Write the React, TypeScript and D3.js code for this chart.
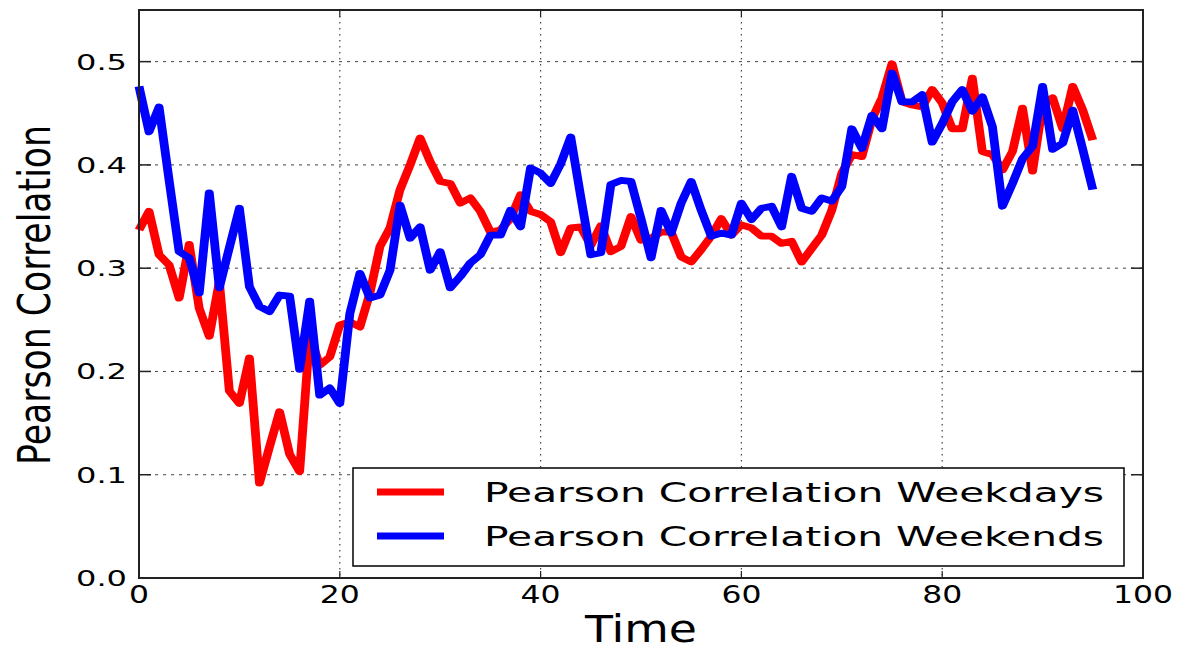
import React from "react";
import * as d3 from "d3";

// Pearson correlation per time step
const weekdays: number[] = [
  0.337, 0.355, 0.313, 0.303, 0.271, 0.323, 0.261, 0.234, 0.287, 0.181,
  0.169, 0.213, 0.092, 0.127, 0.161, 0.12, 0.103, 0.235, 0.206, 0.214,
  0.245, 0.248, 0.243, 0.276, 0.321, 0.339, 0.376, 0.4, 0.426, 0.403,
  0.384, 0.382, 0.363, 0.368, 0.355, 0.335, 0.337, 0.348, 0.371, 0.355,
  0.352, 0.345, 0.315, 0.339, 0.34, 0.322, 0.341, 0.316, 0.321, 0.35,
  0.327, 0.329, 0.335, 0.335, 0.311, 0.306, 0.318, 0.331, 0.348, 0.332,
  0.342, 0.339, 0.331, 0.331, 0.324, 0.326, 0.306, 0.319, 0.332, 0.356,
  0.392, 0.41, 0.408, 0.444, 0.465, 0.498, 0.461, 0.458, 0.456, 0.473,
  0.46, 0.435, 0.435, 0.484, 0.413, 0.41, 0.395, 0.413, 0.455, 0.394,
  0.458, 0.465, 0.435, 0.476, 0.453, 0.424,
];

const weekends: number[] = [
  0.476, 0.432, 0.456, 0.385, 0.316, 0.31, 0.276, 0.373, 0.281, 0.32,
  0.358, 0.282, 0.263, 0.258, 0.274, 0.273, 0.202, 0.268, 0.177, 0.184,
  0.169, 0.256, 0.295, 0.271, 0.274, 0.298, 0.361, 0.329, 0.34, 0.298,
  0.316, 0.281, 0.292, 0.305, 0.313, 0.332, 0.332, 0.356, 0.34, 0.397,
  0.392, 0.382, 0.401, 0.427, 0.369, 0.313, 0.315, 0.381, 0.385, 0.384,
  0.348, 0.31, 0.356, 0.334, 0.363, 0.384, 0.356, 0.331, 0.334, 0.332,
  0.363, 0.347, 0.358, 0.36, 0.34, 0.389, 0.358, 0.355, 0.368, 0.365,
  0.379, 0.435, 0.416, 0.448, 0.435, 0.489, 0.461, 0.461, 0.468, 0.422,
  0.44, 0.461, 0.473, 0.452, 0.466, 0.437, 0.36, 0.382, 0.406, 0.418,
  0.476, 0.415, 0.421, 0.453, 0.415, 0.376,
];

const xTicks: number[] = [0, 20, 40, 60, 80, 100];
const yTicks: number[] = [0.0, 0.1, 0.2, 0.3, 0.4, 0.5];

const seriesNames: string[] = [
  "Pearson Correlation Weekdays",
  "Pearson Correlation Weekends",
];
const seriesColors: string[] = ["#ff0000", "#0000ff"];

const W = 1182;
const H = 649;
const plot = { left: 139, right: 1143, top: 10, bottom: 578 };
const FONT = "DejaVu Sans, sans-serif";
// the figure is rendered with a wider horizontal aspect than vertical
const SX = 1.3;

export default function App() {
  const x = d3.scaleLinear().domain([0, 100]).range([plot.left, plot.right]);
  const y = d3.scaleLinear().domain([0, 0.55]).range([plot.bottom, plot.top]);
  // x scale in the pre-stretch coordinate system used for the data paths
  const xs = d3.scaleLinear().domain([0, 100]).range([plot.left / SX, plot.right / SX]);

  const line = d3
    .line<number>()
    .x((_, i) => xs(i))
    .y((d) => y(d));

  const series = [weekdays, weekends];

  const xLabelWidth = (s: string) => s.length * 20;

  return (
    <div style={{ position: "fixed", left: 0, top: 0, width: W, height: H, background: "#fff" }}>
      <svg width={W} height={H} style={{ display: "block" }}>
        <rect x={0} y={0} width={W} height={H} fill="#fff" />

        {/* grid */}
        {yTicks.map((t) => (
          <line
            key={"gy" + t}
            x1={plot.left}
            x2={plot.right}
            y1={y(t)}
            y2={y(t)}
            stroke="#444"
            strokeWidth={1}
            strokeDasharray="3,5"
          />
        ))}
        {xTicks.map((t) => (
          <line
            key={"gx" + t}
            x1={x(t)}
            x2={x(t)}
            y1={plot.top}
            y2={plot.bottom}
            stroke="#444"
            strokeWidth={1.2}
            strokeDasharray="1.5,4.5"
          />
        ))}

        {/* data lines */}
        <g transform={`scale(${SX},1)`}>
          {series.map((s, k) => (
            <path
              key={"s" + k}
              d={line(s) || ""}
              fill="none"
              stroke={seriesColors[k]}
              strokeWidth={6.8}
              strokeLinejoin="round"
              strokeLinecap="butt"
            />
          ))}
        </g>

        {/* ticks (inside, all four sides) */}
        {xTicks.map((t) => (
          <g key={"tx" + t}>
            <line x1={x(t)} x2={x(t)} y1={plot.bottom} y2={plot.bottom - 7} stroke="#222" strokeWidth={1.2} />
            <line x1={x(t)} x2={x(t)} y1={plot.top} y2={plot.top + 7} stroke="#222" strokeWidth={1.2} />
          </g>
        ))}
        {yTicks.map((t) => (
          <g key={"ty" + t}>
            <line x1={plot.left} x2={plot.left + 12} y1={y(t)} y2={y(t)} stroke="#222" strokeWidth={1.5} />
            <line x1={plot.right} x2={plot.right - 12} y1={y(t)} y2={y(t)} stroke="#222" strokeWidth={1.5} />
          </g>
        ))}

        {/* frame */}
        <rect
          x={plot.left}
          y={plot.top}
          width={plot.right - plot.left}
          height={plot.bottom - plot.top}
          fill="none"
          stroke="#222"
          strokeWidth={2}
        />

        {/* tick labels */}
        {yTicks.map((t) => (
          <text
            key={"ly" + t}
            x={127}
            y={y(t) + 8}
            textAnchor="end"
            fontFamily={FONT}
            fontSize={22}
            textLength={51}
            lengthAdjust="spacingAndGlyphs"
            fill="#000"
          >
            {t.toFixed(1)}
          </text>
        ))}
        {xTicks.map((t) => (
          <text
            key={"lx" + t}
            x={x(t)}
            y={603}
            textAnchor="middle"
            fontFamily={FONT}
            fontSize={25}
            textLength={xLabelWidth(String(t))}
            lengthAdjust="spacingAndGlyphs"
            fill="#000"
          >
            {t}
          </text>
        ))}

        {/* axis titles */}
        <text
          x={641}
          y={642}
          textAnchor="middle"
          fontFamily={FONT}
          fontSize={37}
          textLength={112}
          lengthAdjust="spacingAndGlyphs"
          fill="#000"
        >
          Time
        </text>
        <text
          transform={`translate(50,295) scale(${SX},1) rotate(-90)`}
          textAnchor="middle"
          fontFamily={FONT}
          fontSize={34}
          textLength={340}
          lengthAdjust="spacingAndGlyphs"
          fill="#000"
        >
          Pearson Correlation
        </text>

        {/* legend */}
        <rect x={353} y={468} width={771} height={98} fill="#fff" stroke="#000" strokeWidth={1.5} />
        {seriesNames.map((name, k) => {
          const cy = 492 + k * 44;
          return (
            <g key={"lg" + k}>
              <line x1={377} x2={444} y1={cy} y2={cy} stroke={seriesColors[k]} strokeWidth={7} />
              <text
                x={484}
                y={cy + 10}
                fontFamily={FONT}
                fontSize={27}
                textLength={620}
                lengthAdjust="spacingAndGlyphs"
                fill="#000"
              >
                {name}
              </text>
            </g>
          );
        })}
      </svg>
    </div>
  );
}
